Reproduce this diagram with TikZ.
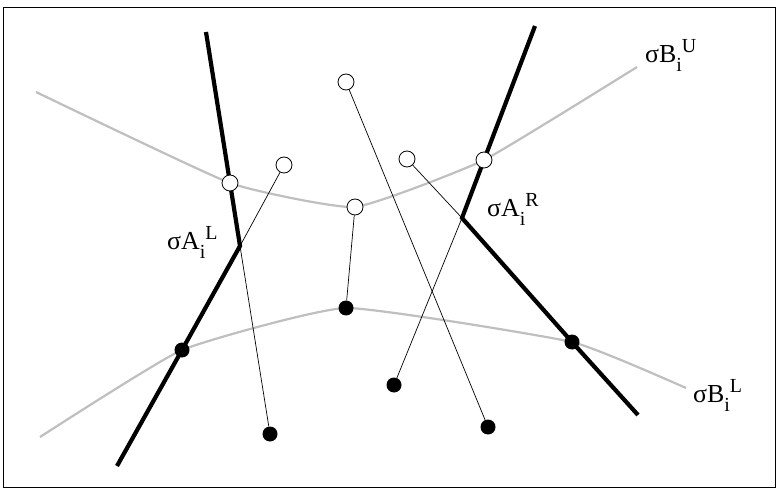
\documentclass[tikz,border=0pt]{standalone}
\usepackage{fontspec}
\setmainfont{Liberation Serif}
\pgfdeclarelayer{bg}
\pgfsetlayers{bg,main}
\newcommand\sublab[3]{{\fontsize{26}{28}\selectfont #1\raisebox{-9bp}{\fontsize{20}{22}\selectfont #2}\raisebox{10bp}{\fontsize{20}{22}\selectfont #3}}}
\begin{document}
\begin{tikzpicture}[x=1bp,y=-1bp,
  opendot/.style={circle,draw,fill=white,minimum size=16bp,inner sep=0pt,line width=0.8bp},
  blackdot/.style={circle,fill=black,minimum size=15bp,inner sep=0pt},
  thickline/.style={line width=4.2bp},
  thinline/.style={line width=0.7bp},
  boundary/.style={gray!50,line width=2.2bp},
  lab/.style={anchor=base west,inner sep=0pt}]
\useasboundingbox (0,0) rectangle (777,488);
\draw[line width=1bp] (3,8) rectangle (775,487);

% corner points of the thick polylines
\coordinate (ALtop) at (206,32);
\coordinate (ALk) at (240,246);
\coordinate (ALbot) at (117,466);
\coordinate (ARtop) at (535,26);
\coordinate (ARk) at (462,218);
\coordinate (ARbot) at (638,415);

% open circles
\node[opendot] (cL) at (230,183) {};
\node[opendot] (cR) at (484,160) {};
\node[opendot] (u1) at (284,165) {};
\node[opendot] (u2) at (346,82) {};
\node[opendot] (u3) at (407,159) {};
\node[opendot] (u4) at (355,207) {};
% black dots
\node[blackdot] (dL) at (182,350) {};
\node[blackdot] (dR) at (572,342) {};
\node[blackdot] (l1) at (270,434) {};
\node[blackdot] (l2) at (346,308) {};
\node[blackdot] (l3) at (394,385) {};
\node[blackdot] (l4) at (488,427) {};

\begin{pgfonlayer}{bg}
\draw[boundary] plot[smooth,tension=0.25] coordinates {(36,92) (cL.center) (u4.center) (cR.center) (637,67)};
\draw[boundary] plot[smooth,tension=0.25] coordinates {(40,437) (dL.center) (l2.center) (dR.center) (686,388)};
\draw[thickline] (ALtop) -- (cL.center) -- (ALk) -- (dL.center) -- (ALbot);
\draw[thickline] (ARtop) -- (cR.center) -- (ARk) -- (dR.center) -- (ARbot);
\end{pgfonlayer}

% thin links
\draw[thinline] (u1) -- (ALk) -- (l1);
\draw[thinline] (u2) -- (l4);
\draw[thinline] (u3) -- (ARk) -- (l3);
\draw[thinline] (u4) -- (l2);

% labels
\node[lab] (tAL) at (167,250) {\sublab{σA}{i}{L}};
\node[lab] (tAR) at (487,217) {\sublab{σA}{i}{R}};
\node[lab] (tBU) at (645,63) {\sublab{σB}{i}{U}};
\node[lab] (tBL) at (693,402) {\sublab{σB}{i}{L}};
\end{tikzpicture}
\end{document}
